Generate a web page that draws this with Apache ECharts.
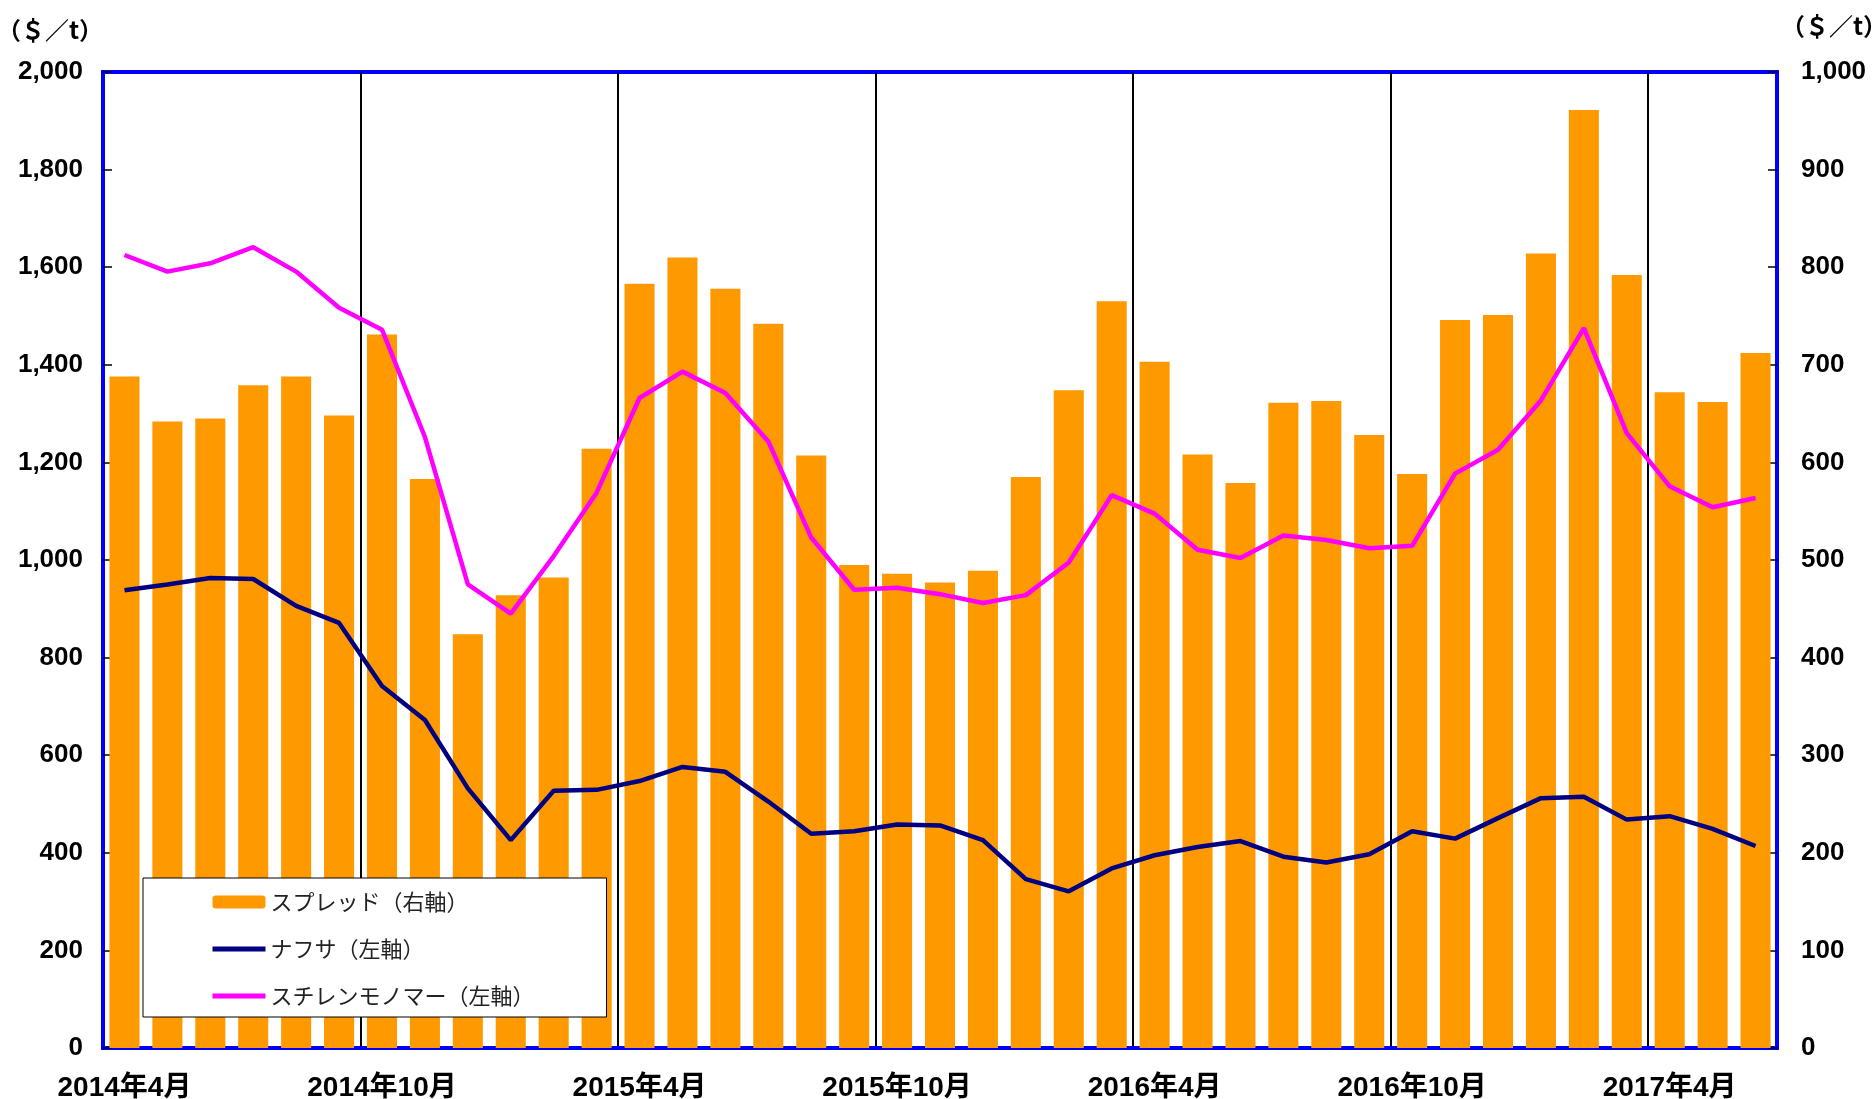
<!DOCTYPE html>
<html>
<head>
<meta charset="utf-8">
<script src="https://cdn.jsdelivr.net/npm/echarts@6/dist/echarts.min.js"></script>
<style>
html,body{margin:0;padding:0;background:#fff;}
#main{width:1875px;height:1099px;}
</style>
</head>
<body>
<div id="main"></div>
<script>
// 月次カテゴリ
var months = [
    '2014年4月','2014年5月','2014年6月','2014年7月','2014年8月','2014年9月',
    '2014年10月','2014年11月','2014年12月','2015年1月','2015年2月','2015年3月',
    '2015年4月','2015年5月','2015年6月','2015年7月','2015年8月','2015年9月',
    '2015年10月','2015年11月','2015年12月','2016年1月','2016年2月','2016年3月',
    '2016年4月','2016年5月','2016年6月','2016年7月','2016年8月','2016年9月',
    '2016年10月','2016年11月','2016年12月','2017年1月','2017年2月','2017年3月',
    '2017年4月','2017年5月','2017年6月'
];
// スプレッド（右軸）
var spread = [
    688, 642, 645, 679, 688, 648, 731, 583, 424, 464, 482, 614,
    783, 810, 778, 742, 607, 495, 486, 477, 489, 585, 674, 765,
    703, 608, 579, 661, 663, 628, 588, 746, 751, 814, 961, 792,
    672, 662, 712
];
// ナフサ（左軸）
var naphtha = [
    938, 950, 963, 961, 906, 871, 742, 672, 532, 426, 527, 529,
    547, 576, 566, 505, 439, 444, 458, 456, 426, 346, 321, 368,
    395, 412, 424, 392, 380, 397, 444, 429, 471, 512, 515, 468,
    475, 449, 414
];
// スチレンモノマー（左軸）
var styrene = [
    1625, 1591, 1608, 1641, 1591, 1517, 1472, 1252, 950, 890, 1008, 1138,
    1332, 1386, 1342, 1243, 1046, 939, 943, 930, 912, 928, 995, 1133,
    1095, 1021, 1004, 1050, 1041, 1024, 1029, 1177, 1226, 1327, 1475, 1260,
    1151, 1108, 1127
];
var leftAxisRange = [0, 2000, 200];
var rightAxisRange = [0, 1000, 100];
var unitName = '（＄／t）';

var myChart = echarts.init(document.getElementById('main'));

function fmt(v) { return v.toLocaleString('en-US'); }

var labelFont = { color: '#000', fontSize: 26, fontWeight: 'bold', fontFamily: 'Liberation Sans, Arial, sans-serif' };
var nameFont = { fontSize: 24, fontWeight: 'bold', color: '#000', fontFamily: 'Noto Sans CJK JP' };

option = {
    animation: false,
    backgroundColor: '#fff',
    grid: {
        left: 103, right: 98, top: 72, bottom: 51,
        outerBoundsMode: 'none',
        show: true,
        borderColor: '#0000ff',
        borderWidth: 4
    },
    legend: {
        orient: 'vertical',
        left: 143,
        top: 878,
        padding: [13, 72, 10, 67],
        itemGap: 25,
        itemWidth: 53,
        itemHeight: 13,
        backgroundColor: '#fff',
        borderColor: '#000',
        borderWidth: 1,
        borderRadius: 0,
        z: 10,
        textStyle: { fontSize: 22, color: '#222', fontFamily: 'Noto Sans CJK JP' },
        data: [
            { name: 'スプレッド（右軸）' },
            { name: 'ナフサ（左軸）', itemStyle: { opacity: 0 }, lineStyle: { width: 5 } },
            { name: 'スチレンモノマー（左軸）', itemStyle: { opacity: 0 }, lineStyle: { width: 5 } }
        ]
    },
    xAxis: {
        type: 'category',
        data: months,
        boundaryGap: true,
        axisLine: { show: true, lineStyle: { color: '#0000ff', width: 4 } },
        axisTick: { show: false },
        axisLabel: {
            interval: 5,
            margin: 26,
            color: '#000',
            fontSize: 28,
            fontWeight: 'bold',
            fontFamily: 'Liberation Sans, Noto Sans CJK JP, sans-serif'
        },
        splitLine: { show: true, interval: 5, lineStyle: { color: '#000', width: 2 } }
    },
    yAxis: [
        {
            type: 'value',
            min: leftAxisRange[0], max: leftAxisRange[1], interval: leftAxisRange[2],
            name: unitName,
            nameLocation: 'end',
            nameGap: 30,
            nameTextStyle: Object.assign({ align: 'right', padding: [0, 0, 0, 0] }, nameFont),
            axisLine: { show: true, lineStyle: { color: '#0000ff', width: 4 } },
            axisTick: { show: true, inside: true, length: 9, lineStyle: { color: '#000', width: 1.5 } },
            axisLabel: Object.assign({ margin: 20, formatter: fmt }, labelFont),
            splitLine: { show: false }
        },
        {
            type: 'value',
            position: 'right',
            min: rightAxisRange[0], max: rightAxisRange[1], interval: rightAxisRange[2],
            name: unitName,
            nameLocation: 'end',
            nameGap: 34,
            nameTextStyle: Object.assign({ align: 'left', padding: [0, 0, 0, 4] }, nameFont),
            axisLine: { show: true, lineStyle: { color: '#0000ff', width: 4 } },
            axisTick: { show: true, inside: true, length: 9, lineStyle: { color: '#000', width: 1.5 } },
            axisLabel: Object.assign({ margin: 24, formatter: fmt }, labelFont),
            splitLine: { show: false }
        }
    ],
    series: [
        {
            name: 'スプレッド（右軸）',
            type: 'bar',
            yAxisIndex: 1,
            barWidth: '70%',
            itemStyle: { color: '#ff9900' },
            data: spread
        },
        {
            name: 'ナフサ（左軸）',
            type: 'line',
            yAxisIndex: 0,
            symbol: 'none',
            lineStyle: { color: '#000080', width: 4.5 },
            itemStyle: { color: '#000080' },
            data: naphtha
        },
        {
            name: 'スチレンモノマー（左軸）',
            type: 'line',
            yAxisIndex: 0,
            symbol: 'none',
            lineStyle: { color: '#ff00ff', width: 4.5 },
            itemStyle: { color: '#ff00ff' },
            data: styrene
        }
    ]
};

myChart.setOption(option);
</script>
</body>
</html>
